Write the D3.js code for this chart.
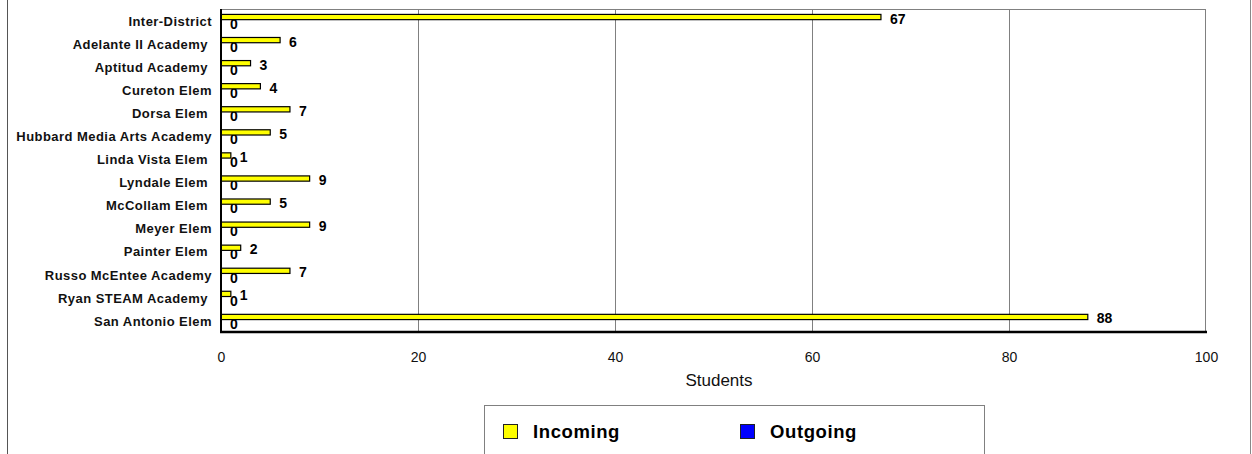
<!DOCTYPE html>
<html>
<head>
<meta charset="utf-8">
<script src="https://cdn.jsdelivr.net/npm/d3@7"></script>
<style>
  html, body { margin: 0; padding: 0; background: #fff; }
  svg { display: block; }
  text { white-space: pre; }
</style>
</head>
<body>
<svg id="chart" width="1252" height="454"></svg>
<script>
const categories = ["Inter-District", "Adelante II Academy ", "Aptitud Academy ", "Cureton Elem", "Dorsa Elem ",
  "Hubbard Media Arts Academy", "Linda Vista Elem ", "Lyndale Elem ", "McCollam Elem ", "Meyer Elem",
  "Painter Elem ", "Russo McEntee Academy", "Ryan STEAM Academy ", "San Antonio Elem"];
const incoming = [67, 6, 3, 4, 7, 5, 1, 9, 5, 9, 2, 7, 1, 88];
const outgoing = [0, 0, 0, 0, 0, 0, 0, 0, 0, 0, 0, 0, 0, 0];
const seriesNames = ["Incoming", "Outgoing"];
const seriesColors = ["#ffff00", "#0000ff"];
const xTicks = [0, 20, 40, 60, 80, 100];
const xTitle = "Students";

const svg = d3.select("#chart");
const W = 1252, H = 454;
const plot = { left: 221, right: 1206, top: 9, bottom: 332 };

// outer frame (cropped)
svg.append("line").attr("x1", 7.5).attr("x2", 7.5).attr("y1", 0).attr("y2", H)
  .attr("stroke", "#555").attr("stroke-width", 1);
svg.append("line").attr("x1", 1250.5).attr("x2", 1250.5).attr("y1", 0).attr("y2", H)
  .attr("stroke", "#888").attr("stroke-width", 1);

const x = d3.scaleLinear().domain([0, 100]).range([plot.left, plot.right]);
const y = d3.scaleBand().domain(categories).range([plot.top, plot.bottom]).padding(0);
const ySub = d3.scaleBand().domain(seriesNames).range([0, y.bandwidth()])
  .paddingInner(0).paddingOuter(1.2).align(0.43);

// plot frame top/right
svg.append("line").attr("x1", plot.left).attr("x2", plot.right).attr("y1", plot.top + 0.5).attr("y2", plot.top + 0.5)
  .attr("stroke", "#808080");
svg.append("line").attr("x1", plot.right - 0.5).attr("x2", plot.right - 0.5).attr("y1", plot.top).attr("y2", plot.bottom)
  .attr("stroke", "#808080");

// gridlines
svg.append("g").selectAll("line").data(xTicks.filter(t => t > 0 && t < 100)).join("line")
  .attr("x1", d => Math.round(x(d)) + 0.5).attr("x2", d => Math.round(x(d)) + 0.5)
  .attr("y1", plot.top).attr("y2", plot.bottom)
  .attr("stroke", "#808080").attr("stroke-width", 1);

// x axis labels
const xAxis = d3.axisBottom(x).tickValues(xTicks).tickSize(0).tickPadding(0);
const gx = svg.append("g").attr("transform", `translate(0,${plot.bottom})`).call(xAxis);
gx.select(".domain").remove();
gx.selectAll("text").attr("y", 30).attr("dy", 0)
  .attr("font-family", "Liberation Sans, Arial, sans-serif").attr("font-size", 14).attr("fill", "#111");

svg.append("text").attr("x", 719).attr("y", 386).attr("text-anchor", "middle")
  .attr("font-family", "Liberation Sans, Arial, sans-serif").attr("font-size", 17).attr("fill", "#111")
  .text(xTitle);

// y axis labels
const yAxis = d3.axisLeft(y).tickSize(0).tickPadding(9);
const gy = svg.append("g").attr("transform", `translate(${plot.left},0)`).call(yAxis);
gy.select(".domain").remove();
gy.selectAll("text")
  .attr("dy", "0.4em")
  .attr("font-family", "Liberation Sans, Arial, sans-serif").attr("font-size", 13).attr("font-weight", "bold")
  .attr("letter-spacing", "0.45px").attr("fill", "#111");

const rows = categories.map((c, i) => ({ cat: c, vals: [incoming[i], outgoing[i]] }));
const groups = svg.append("g").selectAll("g").data(rows).join("g")
  .attr("transform", d => `translate(0,${y(d.cat)})`);

// value labels (drawn first so bars overlay them like the original)
groups.selectAll("text.val").data(d => d.vals.map((v, j) => ({ v, s: seriesNames[j] }))).join("text")
  .attr("class", "val")
  .attr("x", d => x(d.v) + 9)
  .attr("y", d => ySub(d.s) + ySub.bandwidth() / 2 + 6.5)
  .attr("font-family", "Liberation Sans, Arial, sans-serif").attr("font-size", 14).attr("font-weight", "bold")
  .attr("fill", "#000")
  .text(d => d.v);

groups.selectAll("rect").data(d => d.vals.map((v, j) => ({ v, s: seriesNames[j], c: seriesColors[j] }))).join("rect")
  .attr("x", x(0))
  .attr("y", d => ySub(d.s))
  .attr("width", d => x(d.v) - x(0))
  .attr("height", ySub.bandwidth())
  .attr("fill", d => d.c)
  .attr("stroke", "#000").attr("stroke-width", 1.2);

// axes lines (black, thick)
svg.append("line").attr("x1", plot.left).attr("x2", plot.left).attr("y1", plot.top).attr("y2", plot.bottom + 1)
  .attr("stroke", "#000").attr("stroke-width", 2);
svg.append("line").attr("x1", plot.left - 1).attr("x2", plot.right + 1).attr("y1", plot.bottom).attr("y2", plot.bottom)
  .attr("stroke", "#000").attr("stroke-width", 2.5);

// legend
const lg = svg.append("g");
lg.append("rect").attr("x", 484.5).attr("y", 405.5).attr("width", 500).attr("height", 60)
  .attr("fill", "#fff").attr("stroke", "#808080").attr("stroke-width", 1);
const legendX = [503, 740];
seriesNames.forEach((s, i) => {
  lg.append("rect").attr("x", legendX[i] + 0.5).attr("y", 424.5).attr("width", 14).attr("height", 14)
    .attr("fill", seriesColors[i]).attr("stroke", "#222").attr("stroke-width", 1);
  lg.append("text").attr("x", legendX[i] + 30).attr("y", 438)
    .attr("font-family", "Liberation Sans, Arial, sans-serif").attr("font-size", 18.5).attr("font-weight", "bold")
    .attr("letter-spacing", "0.6px").attr("fill", "#000")
    .text(s);
});
</script>
</body>
</html>
